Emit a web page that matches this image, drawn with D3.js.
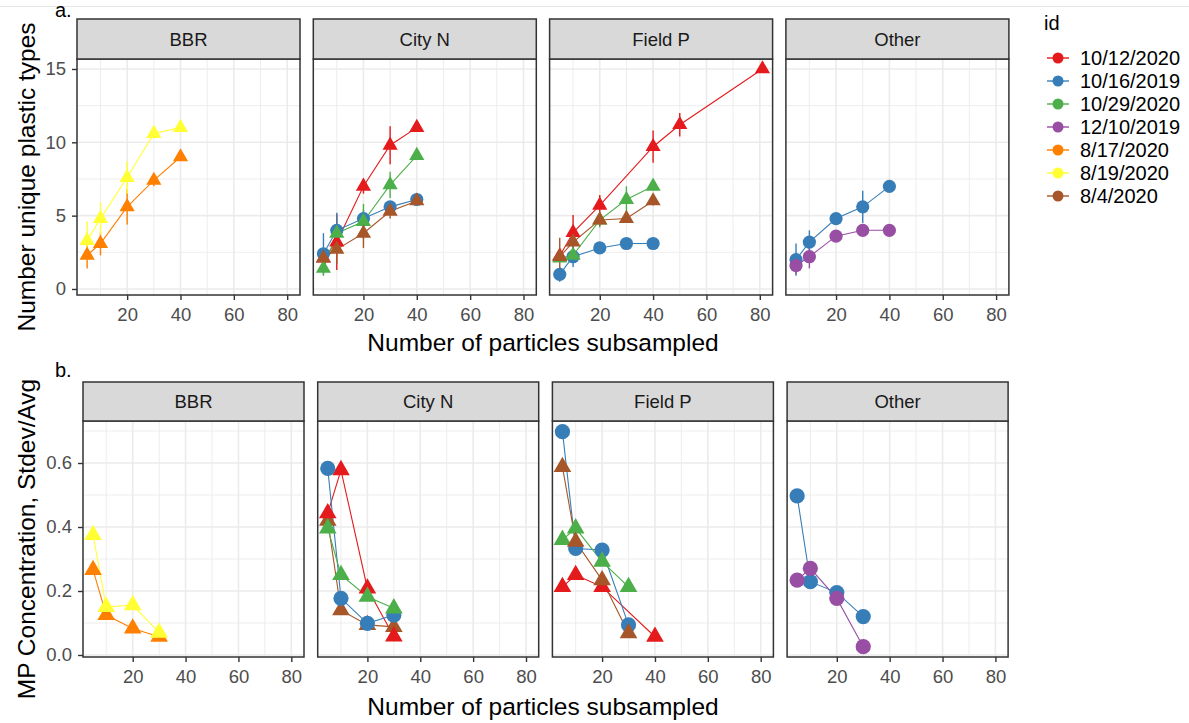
<!DOCTYPE html>
<html>
<head>
<meta charset="utf-8">
<script src="https://cdn.jsdelivr.net/npm/d3@7"></script>
<style>
  html, body { margin: 0; padding: 0; background: #fff; }
  text { font-family: "Liberation Sans", Arial, Helvetica, sans-serif; }
</style>
</head>
<body>
<script>
// ---------- categories ----------
const facets = ["BBR", "City N", "Field P", "Other"];
const ids = ["10/12/2020", "10/16/2019", "10/29/2020", "12/10/2019", "8/17/2020", "8/19/2020", "8/4/2020"];
const idColors = ["#E41A1C", "#377EB8", "#4DAF4A", "#984EA3", "#FF7F00", "#FFFF33", "#A65628"];
const circleIds = ["10/16/2019", "12/10/2019"];
const xTicks = [20, 40, 60, 80];
const aYTicks = [0, 5, 10, 15];
const bYTicks = [0.0, 0.2, 0.4, 0.6];

// ---------- panel a: number of unique plastic types (mean, error) ----------
const a_BBR_0817 = { x: [5, 10, 20, 30, 40], y: [2.3, 3.1, 5.6, 7.4, 9.0], e: [0.9, 0.8, 1.2, 0.4, 0.2] };
const a_BBR_0819 = { x: [5, 10, 20, 30, 40], y: [3.3, 4.8, 7.6, 10.6, 11.0], e: [1.3, 1.1, 1.1, 0.3, 0.2] };
const a_CityN_1012 = { x: [5, 10, 20, 30, 40], y: [2.1, 3.2, 7.0, 9.8, 11.0], e: [0.4, 1.9, 0.5, 1.3, 0.2] };
const a_CityN_1016 = { x: [5, 10, 20, 30, 40], y: [2.4, 4.0, 4.8, 5.6, 6.1], e: [1.4, 1.2, 0.6, 0.4, 0.2] };
const a_CityN_1029 = { x: [5, 10, 20, 30, 40], y: [1.4, 3.8, 4.6, 7.1, 9.1], e: [0.5, 0.5, 1.2, 0.9, 0.2] };
const a_CityN_0804 = { x: [5, 10, 20, 30, 40], y: [2.1, 2.7, 3.8, 5.3, 6.0], e: [0.4, 1.0, 1.0, 0.5, 0.2] };
const a_FieldP_1012 = { x: [5, 10, 20, 40, 50, 81], y: [2.25, 3.85, 5.7, 9.7, 11.2, 15.0], e: [0.3, 1.2, 0.7, 1.1, 0.8, 0.1] };
const a_FieldP_1016 = { x: [5, 10, 20, 30, 40], y: [1.0, 2.2, 2.8, 3.1, 3.1], e: [0.5, 0.7, 0.3, 0.2, 0.2] };
const a_FieldP_1029 = { x: [5, 10, 20, 30, 40], y: [2.1, 2.3, 4.7, 6.1, 7.0], e: [0.3, 0.4, 0.5, 0.9, 0.3] };
const a_FieldP_0804 = { x: [5, 10, 20, 30, 40], y: [2.2, 3.2, 4.7, 4.8, 6.0], e: [1.3, 0.5, 0.4, 0.3, 0.3] };
const a_Other_1016 = { x: [5, 10, 20, 30, 40], y: [2.0, 3.2, 4.8, 5.6, 7.0], e: [1.1, 0.8, 0.3, 1.1, 0.2] };
const a_Other_1210 = { x: [5, 10, 20, 30, 40], y: [1.6, 2.2, 3.6, 4.0, 4.0], e: [0.6, 0.8, 0.3, 0.3, 0.2] };

// ---------- panel b: MP concentration, Stdev/Avg ----------
const b_BBR_0817 = { x: [5, 10, 20, 30], y: [0.266, 0.125, 0.083, 0.057] };
const b_BBR_0819 = { x: [5, 10, 20, 30], y: [0.375, 0.150, 0.156, 0.070] };
const b_CityN_1012 = { x: [5, 10, 20, 30], y: [0.443, 0.578, 0.208, 0.058] };
const b_CityN_1016 = { x: [5, 10, 20, 30], y: [0.583, 0.177, 0.099, 0.125] };
const b_CityN_1029 = { x: [5, 10, 20, 30], y: [0.396, 0.250, 0.182, 0.146] };
const b_CityN_0804 = { x: [5, 10, 20, 30], y: [0.420, 0.140, 0.094, 0.088] };
const b_FieldP_1012 = { x: [5, 10, 20, 40], y: [0.213, 0.250, 0.213, 0.057] };
const b_FieldP_1016 = { x: [5, 10, 20, 30], y: [0.698, 0.333, 0.328, 0.094] };
const b_FieldP_1029 = { x: [5, 10, 20, 30], y: [0.360, 0.396, 0.292, 0.213] };
const b_FieldP_0804 = { x: [5, 10, 20, 30], y: [0.588, 0.354, 0.234, 0.068] };
const b_Other_1016 = { x: [5, 10, 20, 30], y: [0.497, 0.229, 0.195, 0.120] };
const b_Other_1210 = { x: [5, 10, 20, 30], y: [0.234, 0.271, 0.177, 0.026] };

const aSeries = [
  ["BBR", "8/17/2020", a_BBR_0817], ["BBR", "8/19/2020", a_BBR_0819],
  ["City N", "10/12/2020", a_CityN_1012], ["City N", "10/16/2019", a_CityN_1016],
  ["City N", "10/29/2020", a_CityN_1029], ["City N", "8/4/2020", a_CityN_0804],
  ["Field P", "10/12/2020", a_FieldP_1012], ["Field P", "10/16/2019", a_FieldP_1016],
  ["Field P", "10/29/2020", a_FieldP_1029], ["Field P", "8/4/2020", a_FieldP_0804],
  ["Other", "10/16/2019", a_Other_1016], ["Other", "12/10/2019", a_Other_1210]
];
const bSeries = [
  ["BBR", "8/17/2020", b_BBR_0817], ["BBR", "8/19/2020", b_BBR_0819],
  ["City N", "8/4/2020", b_CityN_0804], ["City N", "10/12/2020", b_CityN_1012],
  ["City N", "10/16/2019", b_CityN_1016], ["City N", "10/29/2020", b_CityN_1029],
  ["Field P", "10/12/2020", b_FieldP_1012], ["Field P", "10/16/2019", b_FieldP_1016],
  ["Field P", "10/29/2020", b_FieldP_1029], ["Field P", "8/4/2020", b_FieldP_0804],
  ["Other", "10/16/2019", b_Other_1016], ["Other", "12/10/2019", b_Other_1210]
];

// ---------- drawing ----------
const W = 1189, H = 723;
const svg = d3.select("body").append("svg").attr("width", W).attr("height", H);
const color = d3.scaleOrdinal().domain(ids).range(idColors);
const GRID = "#EBEBEB", DARK = "#333333", TICKTXT = "#4D4D4D";

svg.append("line").attr("x1", 0).attr("x2", W).attr("y1", 6.5).attr("y2", 6.5)
  .attr("stroke", "#e6e6e6").attr("stroke-width", 1);

function drawRow(cfg) {
  const x0 = d3.scaleLinear().domain([1.2, 84.8]).range([0, cfg.width]);
  const y = d3.scaleLinear().domain(cfg.yDomain).range([cfg.plotBottom, cfg.plotTop]);
  facets.forEach((f, i) => {
    const left = cfg.left0 + i * cfg.step;
    const g = svg.append("g").attr("transform", `translate(${left},0)`);
    const h = cfg.plotBottom - cfg.plotTop;
    g.append("rect").attr("x", 0).attr("y", cfg.plotTop).attr("width", cfg.width).attr("height", h).attr("fill", "#fff");
    [10, 30, 50, 70].forEach(v => g.append("line").attr("x1", x0(v)).attr("x2", x0(v))
      .attr("y1", cfg.plotTop).attr("y2", cfg.plotBottom).attr("stroke", GRID).attr("stroke-width", 0.9));
    cfg.yMinor.forEach(v => g.append("line").attr("x1", 0).attr("x2", cfg.width)
      .attr("y1", y(v)).attr("y2", y(v)).attr("stroke", GRID).attr("stroke-width", 0.9));
    xTicks.forEach(v => g.append("line").attr("x1", x0(v)).attr("x2", x0(v))
      .attr("y1", cfg.plotTop).attr("y2", cfg.plotBottom).attr("stroke", GRID).attr("stroke-width", 1.6));
    cfg.yTicks.forEach(v => g.append("line").attr("x1", 0).attr("x2", cfg.width)
      .attr("y1", y(v)).attr("y2", y(v)).attr("stroke", GRID).attr("stroke-width", 1.6));

    const rows = cfg.series.filter(s => s[0] === f);
    const plot = g.append("g");
    rows.forEach(([ff, id, d]) => {
      const pts = d.x.map((xv, k) => [xv, d.y[k]]);
      plot.append("path").datum(pts)
        .attr("d", d3.line().x(p => x0(p[0])).y(p => y(p[1])))
        .attr("fill", "none").attr("stroke", color(id)).attr("stroke-width", 1.1);
    });
    if (cfg.errors) {
      rows.forEach(([ff, id, d]) => {
        d.x.forEach((xv, k) => {
          plot.append("line").attr("x1", x0(xv)).attr("x2", x0(xv))
            .attr("y1", y(d.y[k] - d.e[k])).attr("y2", y(d.y[k] + d.e[k]))
            .attr("stroke", color(id)).attr("stroke-width", 1.4);
        });
      });
    }
    rows.forEach(([ff, id, d]) => {
      d.x.forEach((xv, k) => {
        if (circleIds.includes(id)) {
          plot.append("circle").attr("cx", x0(xv)).attr("cy", y(d.y[k])).attr("r", cfg.circR)
            .attr("fill", color(id));
        } else {
          plot.append("path").attr("d", d3.symbol(d3.symbolTriangle, cfg.triSize)())
            .attr("transform", `translate(${x0(xv)},${y(d.y[k])})`)
            .attr("fill", color(id));
        }
      });
    });
    g.append("rect").attr("x", 0).attr("y", cfg.plotTop).attr("width", cfg.width).attr("height", h)
      .attr("fill", "none").attr("stroke", DARK).attr("stroke-width", 1.5);
    g.append("rect").attr("x", 0).attr("y", cfg.stripTop).attr("width", cfg.width)
      .attr("height", cfg.plotTop - cfg.stripTop).attr("fill", "#D9D9D9")
      .attr("stroke", DARK).attr("stroke-width", 1.5);
    g.append("text").attr("x", cfg.width / 2).attr("y", (cfg.stripTop + cfg.plotTop) / 2)
      .attr("text-anchor", "middle").attr("dominant-baseline", "central")
      .attr("font-size", 18.5).attr("fill", "#1A1A1A").text(f);
    const xa = g.append("g").attr("transform", `translate(0,${cfg.plotBottom})`)
      .call(d3.axisBottom(x0).tickValues(xTicks).tickSize(5).tickPadding(8));
    xa.select(".domain").remove();
    xa.selectAll("line").attr("stroke", DARK).attr("stroke-width", 1.4);
    xa.selectAll("text").attr("font-size", 18.5).attr("fill", TICKTXT)
      .attr("font-family", "Liberation Sans, Arial, sans-serif");
    if (i === 0) {
      const ya = g.append("g").call(d3.axisLeft(y).tickValues(cfg.yTicks).tickSize(5).tickPadding(6).tickFormat(cfg.fmt));
      ya.select(".domain").remove();
      ya.selectAll("line").attr("stroke", DARK).attr("stroke-width", 1.4);
      ya.selectAll("text").attr("font-size", 18.5).attr("fill", TICKTXT)
        .attr("font-family", "Liberation Sans, Arial, sans-serif");
    }
  });
  svg.append("text").attr("x", 543).attr("y", cfg.xTitleY).attr("text-anchor", "middle")
    .attr("font-size", 24.5).attr("fill", "#000").text("Number of particles subsampled");
  const cy = (cfg.plotTop + cfg.plotBottom) / 2;
  svg.append("text").attr("transform", `translate(26,${cy}) rotate(-90)`)
    .attr("text-anchor", "middle").attr("dominant-baseline", "central")
    .attr("font-size", 24.5).attr("fill", "#000").text(cfg.yTitle);
  svg.append("text").attr("x", 55).attr("y", cfg.tagY).attr("font-size", 20).attr("fill", "#000").text(cfg.tag);
}

drawRow({
  left0: 77, step: 236.3, width: 223, stripTop: 19, plotTop: 59, plotBottom: 295,
  yDomain: [-0.41, 15.68], yTicks: aYTicks, yMinor: [2.5, 7.5, 12.5], fmt: d3.format("d"),
  series: aSeries, errors: true, circR: 6.6, triSize: 100,
  xTitleY: 351, yTitle: "Number unique plastic types", tag: "a.", tagY: 17
});
drawRow({
  left0: 83, step: 234.7, width: 221, stripTop: 382, plotTop: 421, plotBottom: 657,
  yDomain: [-0.00625, 0.7313], yTicks: bYTicks, yMinor: [0.1, 0.3, 0.5, 0.7], fmt: d3.format(".1f"),
  series: bSeries, errors: false, circR: 7.6, triSize: 135,
  xTitleY: 715, yTitle: "MP Concentration, Stdev/Avg", tag: "b.", tagY: 377
});

const lg = svg.append("g");
lg.append("text").attr("x", 1044).attr("y", 30).attr("font-size", 20).attr("fill", "#000").text("id");
ids.forEach((id, i) => {
  const cy = 58 + i * 23;
  lg.append("line").attr("x1", 1047).attr("x2", 1069).attr("y1", cy).attr("y2", cy)
    .attr("stroke", color(id)).attr("stroke-width", 1.4);
  lg.append("circle").attr("cx", 1058).attr("cy", cy).attr("r", 5.5).attr("fill", color(id));
  lg.append("text").attr("x", 1080).attr("y", cy).attr("dominant-baseline", "central")
    .attr("font-size", 20).attr("fill", "#000").text(id);
});
</script>
</body>
</html>
